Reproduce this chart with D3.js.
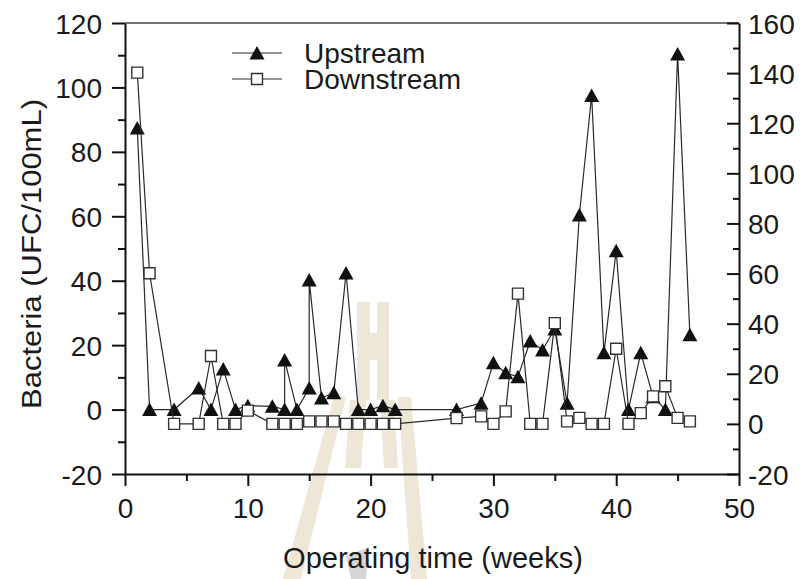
<!DOCTYPE html>
<html><head><meta charset="utf-8">
<script src="https://cdn.jsdelivr.net/npm/d3@7"></script>
<style>
body{margin:0;background:#fff}
svg{display:block}
text{font-family:"Liberation Sans",Arial,Helvetica,sans-serif;fill:#1a1a1a}
</style>
</head><body>
<svg id="c" width="803" height="579"></svg>
<script>
// ---------------- data ----------------
const upWeeks   = [1, 2, 4, 6, 7, 8, 9, 10, 12, 13, 13, 14, 15, 15, 16, 17, 18, 19, 20, 21, 22, 27, 29, 30, 31, 32, 33, 34, 35, 36, 37, 38, 39, 40, 41, 42, 43, 44, 45, 46];
const upValues  = [87.4, 0, 0, 6.7, 0, 12.6, 0, 1.2, 1, 0, 15.4, 0, 6.7, 40.2, 3.6, 5.2, 42.4, 0, 0, 1.2, 0, 0, 2, 14.5, 11.4, 10.2, 21.3, 18.5, 25, 2, 60.4, 97.5, 17.6, 49.3, 0, 17.6, 4, 0, 110.4, 23.2];
const downWeeks  = [1, 2, 4, 6, 7, 8, 9, 10, 12, 13, 14, 15, 16, 17, 18, 19, 20, 21, 22, 27, 29, 30, 31, 32, 33, 34, 35, 36, 37, 38, 39, 40, 41, 42, 43, 44, 45, 46];
const downValues = [140.2, 60.1, 0, 0, 27.1, 0, 0, 5.3, 0, 0, 0, 1, 1, 1, 0, 0, 0, 0, 0, 2.3, 3, 0, 5, 52, 0, 0, 40.2, 1, 2.4, 0, 0, 30, 0, 4.3, 11, 15, 2.4, 1];
const seriesNames = ["Upstream", "Downstream"];
const xTicks = [0, 10, 20, 30, 40, 50];
const xMinorTicks = [5, 15, 25, 35, 45];
const leftTicks = [-20, 0, 20, 40, 60, 80, 100, 120];
const leftMinorTicks = [-10, 10, 30, 50, 70, 90, 110];
const rightTicks = [-20, 0, 20, 40, 60, 80, 100, 120, 140, 160];
const rightMinorTicks = [-10, 10, 30, 50, 70, 90, 110, 130, 150];
const xTitle = "Operating time (weeks)";
const yTitle = "Bacteria (UFC/100mL)";

// ---------------- layout ----------------
const svg = d3.select("#c");
const L = 125, R = 739, T = 23, B = 474;
const x  = d3.scaleLinear().domain([0, 50]).range([L, R]);
const yL = d3.scaleLinear().domain([-20, 120]).range([B, T]);
const yR = d3.scaleLinear().domain([-20, 160]).range([B, T]);
const FS = 28;
const fmt = d => String(d);

// faint background watermark (decoration)
const wm = svg.append("g").attr("fill", "#eee6d6");
const wmShapes = [
  [[357,302],[370,302],[370,400],[357,400]],
  [[377,302],[389,302],[389,400],[377,400]],
  [[370,333],[377,333],[377,360],[370,360]],
  [[334,397],[346,397],[301,579],[283,579]],
  [[398,397],[411,397],[427,579],[411,579]],
  [[350,400],[366,400],[361,468],[345,468]],
  [[380,400],[394,400],[398,468],[384,468]]
];
wmShapes.forEach(p => wm.append("path").attr("d", d3.line()(p) + "Z"));
svg.append("path").attr("fill", "#d6d6d6")
  .attr("d", d3.line()([[346,556],[369,547],[366,579],[351,579]]) + "Z");

// top frame line
svg.append("line").attr("x1", L).attr("x2", R).attr("y1", T).attr("y2", T)
  .attr("stroke", "#444").attr("stroke-width", 1.3);

function styleAxis(g) {
  g.selectAll("path.domain").attr("stroke", "#111").attr("stroke-width", 2);
  g.selectAll(".tick line").attr("stroke", "#111").attr("stroke-width", 2);
  g.selectAll(".tick text").attr("font-size", FS).attr("fill", "#1a1a1a")
    .style("font-family", '"Liberation Sans",Arial,sans-serif');
}

// bottom axis
const gx = svg.append("g").attr("transform", `translate(0,${B})`)
  .call(d3.axisBottom(x).tickValues(xTicks).tickSize(12).tickSizeOuter(0).tickPadding(12).tickFormat(fmt));
styleAxis(gx);
const gxm = svg.append("g").attr("transform", `translate(0,${B})`)
  .call(d3.axisBottom(x).tickValues(xMinorTicks).tickSize(7).tickFormat(""));
gxm.select("path.domain").remove(); styleAxis(gxm);

// left axis
const gl = svg.append("g").attr("transform", `translate(${L},0)`)
  .call(d3.axisLeft(yL).tickValues(leftTicks).tickSize(13).tickSizeOuter(0).tickPadding(10).tickFormat(fmt));
styleAxis(gl);
gl.selectAll(".tick text").attr("dy", "0.36em");
const glm = svg.append("g").attr("transform", `translate(${L},0)`)
  .call(d3.axisLeft(yL).tickValues(leftMinorTicks).tickSize(7).tickFormat(""));
glm.select("path.domain").remove(); styleAxis(glm);

// right axis (ticks inward)
const gr = svg.append("g").attr("transform", `translate(${R},0)`)
  .call(d3.axisRight(yR).tickValues(rightTicks).tickSize(-12).tickSizeOuter(0).tickPadding(9).tickFormat(fmt));
styleAxis(gr);
gr.selectAll(".tick text").attr("dy", "0.36em");
const grm = svg.append("g").attr("transform", `translate(${R},0)`)
  .call(d3.axisRight(yR).tickValues(rightMinorTicks).tickSize(-6).tickFormat(""));
grm.select("path.domain").remove(); styleAxis(grm);

// titles
svg.append("text").attr("x", 433).attr("y", 568)
  .attr("text-anchor", "middle").attr("font-size", 29).text(xTitle);
svg.append("text").attr("transform", `translate(41,254) rotate(-90) scale(1,0.88)`)
  .attr("text-anchor", "middle").attr("font-size", 31).text(yTitle);

// symbols
const triangleType = { draw(ctx) { ctx.moveTo(0, -7); ctx.lineTo(7.5, 6.5); ctx.lineTo(-7.5, 6.5); ctx.closePath(); } };
const triSym = d3.symbol().type(triangleType);
const sqSym = d3.symbol().type(d3.symbolSquare).size(121);

const upData = upWeeks.map((w, i) => [w, upValues[i]]);
const downData = downWeeks.map((w, i) => [w, downValues[i]]);

// upstream series (left axis)
svg.append("path").datum(upData)
  .attr("fill", "none").attr("stroke", "#2a2a2a").attr("stroke-width", 1.2)
  .attr("d", d3.line().x(d => x(d[0])).y(d => yL(d[1])));
svg.append("g").selectAll("path").data(upData).join("path")
  .attr("transform", d => `translate(${x(d[0])},${yL(d[1])})`)
  .attr("d", triSym()).attr("fill", "#111");

// downstream series (right axis)
svg.append("path").datum(downData)
  .attr("fill", "none").attr("stroke", "#2a2a2a").attr("stroke-width", 1.2)
  .attr("d", d3.line().x(d => x(d[0])).y(d => yR(d[1])));
svg.append("g").selectAll("path").data(downData).join("path")
  .attr("transform", d => `translate(${x(d[0])},${yR(d[1])})`)
  .attr("d", sqSym()).attr("fill", "#fff").attr("stroke", "#333").attr("stroke-width", 1.4);

// legend
const legend = svg.append("g");
const legY = [53, 79];
seriesNames.forEach((name, i) => {
  const g = legend.append("g").attr("transform", `translate(0,${legY[i]})`);
  g.append("line").attr("x1", 232).attr("x2", 282).attr("stroke", "#2a2a2a").attr("stroke-width", 1.2);
  if (i === 0) g.append("path").attr("transform", "translate(257,0)").attr("d", triSym()).attr("fill", "#111");
  else g.append("path").attr("transform", "translate(257,0)").attr("d", sqSym()).attr("fill", "#fff").attr("stroke", "#333").attr("stroke-width", 1.4);
  g.append("text").attr("x", 304).attr("dy", "0.36em").attr("font-size", FS).text(name);
});
</script>
</body></html>
